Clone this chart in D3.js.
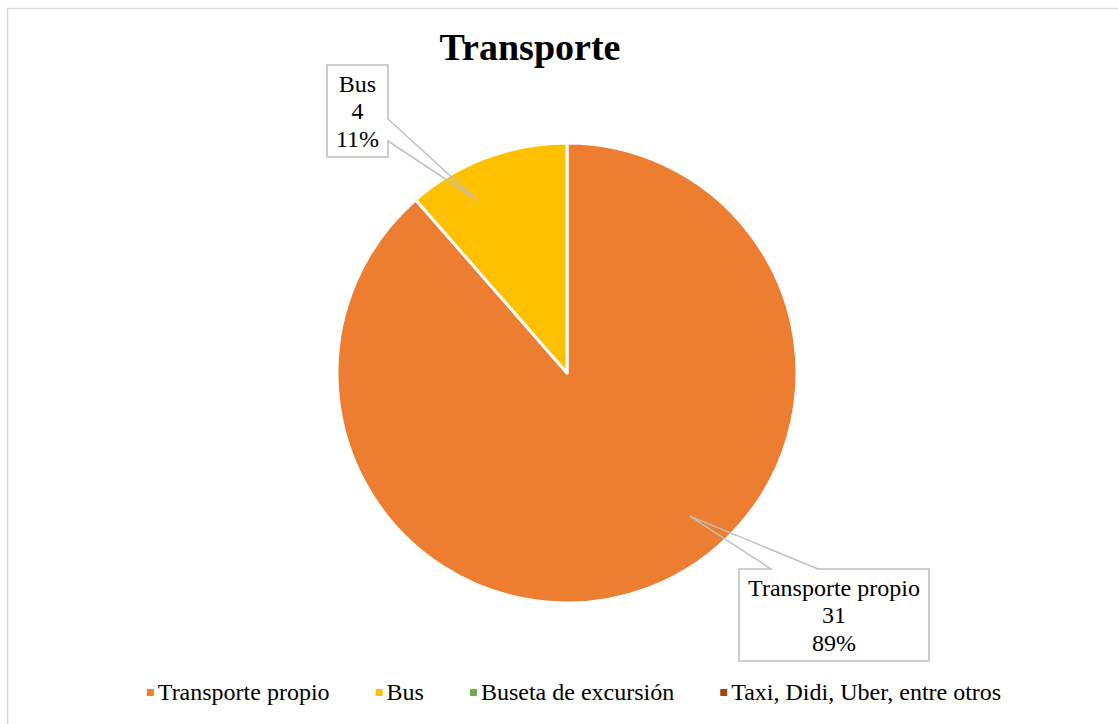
<!DOCTYPE html>
<html>
<head>
<meta charset="utf-8">
<script src="https://cdn.jsdelivr.net/npm/d3@7"></script>
<style>
  body { margin: 0; background: #fff; }
  text { font-family: "Liberation Serif", "Times New Roman", serif; }
</style>
</head>
<body>
<div id="vis-holder"></div>
<script>
// Set dimensions
const width = 1118;
const height = 724;

// chart data
const categories = ["Transporte propio", "Bus", "Buseta de excursión", "Taxi, Didi, Uber, entre otros"];
const counts = [31, 4, 0, 0];
const percents = ["89%", "11%", "0%", "0%"];
const colors = ["#ED7D31", "#FFC000", "#70AD47", "#9E480E"];

const cx = 567, cy = 373, radius = 230;

const svg = d3.select("#vis-holder")
  .append("svg")
  .attr("width", width)
  .attr("height", height);

// chart border
svg.append("rect")
  .attr("x", 7.5).attr("y", 8.5)
  .attr("width", width).attr("height", height)
  .attr("fill", "white")
  .attr("stroke", "#d9d9d9")
  .attr("stroke-width", 1.5);

// title
svg.append("text")
  .attr("x", 530).attr("y", 60)
  .attr("text-anchor", "middle")
  .attr("font-size", "38px")
  .attr("font-weight", "bold")
  .text("Transporte");

const data = categories.map((c, i) => ({ cat: c, value: counts[i], pct: percents[i], color: colors[i] }));

const pie = d3.pie().sort(null).value(d => d.value);
const arc = d3.arc().innerRadius(0).outerRadius(radius);
const arcs = pie(data);

const g = svg.append("g").attr("transform", `translate(${cx},${cy})`);

g.selectAll("path.slice")
  .data(arcs.filter(a => a.data.value > 0))
  .enter()
  .append("path")
  .attr("class", "slice")
  .attr("d", arc)
  .attr("fill", d => d.data.color)
  .attr("stroke", "white")
  .attr("stroke-width", 3)
  .attr("stroke-linejoin", "round");

// callout boxes (box position, wedge base on which side, tip position within the slice)
const callouts = [
  { i: 1, box: [327, 65, 61, 92], side: "right", base: [119, 141], tipT: 0.33, tipR: 0.85 },
  { i: 0, box: [739, 569, 190, 92], side: "top", base: [771, 818], tipT: 0.437, tipR: 0.82 }
];

callouts.forEach(c => {
  const a = arcs[c.i];
  const ang = a.startAngle + (a.endAngle - a.startAngle) * c.tipT;
  const tip = [cx + Math.sin(ang) * radius * c.tipR, cy - Math.cos(ang) * radius * c.tipR];
  const [bx, by, bw, bh] = c.box;
  let pts;
  if (c.side === "right") {
    pts = [[bx, by], [bx + bw, by], [bx + bw, c.base[0]], tip, [bx + bw, c.base[1]], [bx + bw, by + bh], [bx, by + bh]];
  } else {
    pts = [[bx, by], [c.base[0], by], tip, [c.base[1], by], [bx + bw, by], [bx + bw, by + bh], [bx, by + bh]];
  }
  svg.append("rect")
    .attr("x", bx).attr("y", by).attr("width", bw).attr("height", bh)
    .attr("fill", "white");
  svg.append("path")
    .attr("d", d3.line()(pts) + "Z")
    .attr("fill", "none")
    .attr("stroke", "#bfbfbf")
    .attr("stroke-width", 1.5);

  const lines = [a.data.cat, String(a.data.value), a.data.pct];
  const lineH = 27.5;
  const y0 = by + bh / 2 - lineH + 8;
  lines.forEach((t, k) => {
    svg.append("text")
      .attr("x", bx + bw / 2)
      .attr("y", y0 + k * lineH)
      .attr("text-anchor", "middle")
      .attr("font-size", "24px")
      .attr("fill", "#000")
      .text(t);
  });
});

// legend
const legend = svg.append("g");
const items = legend.selectAll("g")
  .data(data)
  .enter()
  .append("g");

items.append("rect")
  .attr("width", 7).attr("height", 7)
  .attr("y", -11)
  .attr("fill", d => d.color);

items.append("text")
  .attr("x", 11)
  .attr("font-size", "24px")
  .text(d => d.cat);

let xpos = 0;
const gap = 46;
items.each(function () {
  const w = this.getBBox().width;
  d3.select(this).attr("transform", `translate(${xpos},0)`);
  xpos += w + gap;
});
const total = xpos - gap;
legend.attr("transform", `translate(${574 - total / 2},700)`);
</script>
</body>
</html>
